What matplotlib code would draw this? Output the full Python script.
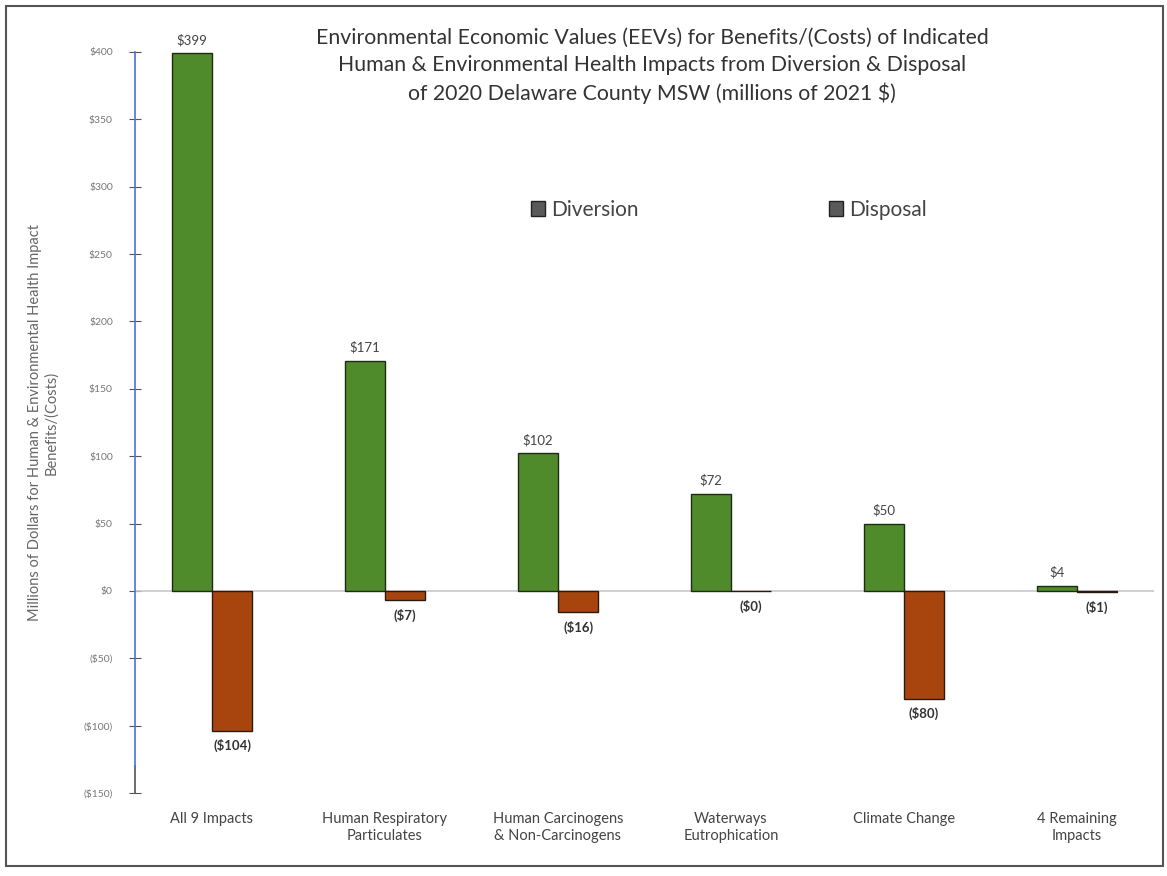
import matplotlib
matplotlib.use("Agg")
import matplotlib.pyplot as plt
import numpy as np
from matplotlib.patches import Patch, Rectangle

categories = ["All 9 Impacts", "Human Respiratory\nParticulates", "Human Carcinogens\n& Non-Carcinogens",
              "Waterways\nEutrophication", "Climate Change", "4 Remaining\nImpacts"]
diversion = [399, 171, 102, 72, 50, 4]
disposal = [-104, -7, -16, -0.3, -80, -1]
diversion_labels = ["$399", "$171", "$102", "$72", "$50", "$4"]
disposal_labels = ["($104)", "($7)", "($16)", "($0)", "($80)", "($1)"]
yticks = [400, 350, 300, 250, 200, 150, 100, 50, 0, -50, -100, -150]
ytick_labels = ["$400", "$350", "$300", "$250", "$200", "$150", "$100", "$50", "$0", "($50)", "($100)", "($150)"]

plt.rcParams['font.family'] = ['Lato', 'DejaVu Sans']

fig = plt.figure(figsize=(11.67, 8.76), dpi=100)
ax = fig.add_axes([135/1167, 1-793/876, (1154-135)/1167, (793-52)/876])

x = np.arange(len(categories))
w = 0.232
green = '#4f8a2b'
brown = '#a8450f'
ax.bar(x - w/2, diversion, w, color=green, edgecolor='#1e2a14', linewidth=1.0, zorder=3)
ax.bar(x + w/2, disposal, w, color=brown, edgecolor='#2a1a10', linewidth=1.0, zorder=3)

for xi, v, lab in zip(x, diversion, diversion_labels):
    ax.annotate(lab, (xi - w/2, v), xytext=(0, 5), textcoords='offset points',
                ha='center', va='bottom', fontsize=9.5, color='#444444')
for xi, v, lab in zip(x, disposal, disposal_labels):
    ax.annotate(lab, (xi + w/2, v), xytext=(0, -6), textcoords='offset points',
                ha='center', va='top', fontsize=9.5, color='#333333', fontweight='bold')

ax.set_xlim(-0.445, 5.445)
ax.set_ylim(-150, 400)
ax.axhline(0, color='#c8c8c8', linewidth=1.2, zorder=2)

for s in ['top', 'right', 'bottom']:
    ax.spines[s].set_visible(False)
ax.spines['left'].set_color('#4a72d8')
ax.spines['left'].set_linewidth(1.2)
ax.spines['left'].set_bounds(-130, 400)
ax.plot([0, 0], [-150, -130], transform=ax.get_yaxis_transform(), color='#555555',
        linewidth=1.2, clip_on=False)

ax.set_yticks(yticks)
ax.set_yticklabels(ytick_labels, fontsize=7.5, color='#777777')
ax.tick_params(axis='y', direction='inout', length=8, color='#555555', pad=12)
ax.set_xticks(x)
ax.set_xticklabels(categories, fontsize=10.5, color='#444444')
ax.tick_params(axis='x', length=0, pad=14)

ax.set_ylabel("Millions of Dollars for Human & Environmental Health Impact\nBenefits/(Costs)",
              fontsize=10.5, color='#666666', labelpad=18)

fig.text(652/1167, 1-66/876,
         "Environmental Economic Values (EEVs) for Benefits/(Costs) of Indicated\n"
         "Human & Environmental Health Impacts from Diversion & Disposal\n"
         "of 2020 Delaware County MSW (millions of 2021 $)",
         ha='center', va='center', fontsize=15.3, color='#333333', linespacing=1.42)

handles = [Patch(facecolor='#5a5a5a', edgecolor='#222222'), Patch(facecolor='#5a5a5a', edgecolor='#222222')]
fig.legend(handles[:1], ["Diversion"], loc='center left', bbox_to_anchor=(512/1167, 1-210/876),
           frameon=False, fontsize=15, handlelength=0.7, handleheight=0.7, handletextpad=0.3,
           labelcolor='#444444')
fig.legend(handles[1:], ["Disposal"], loc='center left', bbox_to_anchor=(810/1167, 1-210/876),
           frameon=False, fontsize=15, handlelength=0.7, handleheight=0.7, handletextpad=0.3,
           labelcolor='#444444')

fig.patches.append(Rectangle((6/1167, 1-866/876), 1157/1167, 860/876, transform=fig.transFigure,
                             fill=False, edgecolor='#555555', linewidth=1.5))

fig.savefig("out.png", dpi=100)
